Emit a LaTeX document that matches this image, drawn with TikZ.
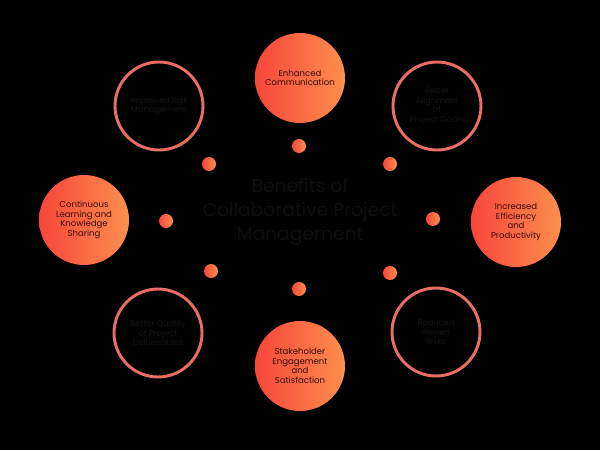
\documentclass[tikz,border=0pt]{standalone}
\usepackage{fontspec}
\setmainfont{Poppins}
\definecolor{cl}{HTML}{F7463A}
\definecolor{cr}{HTML}{FD8E4E}
\definecolor{ringc}{HTML}{EA6E64}
\definecolor{dtext}{HTML}{340C08}
\definecolor{ghost}{HTML}{0F0F0F}
\definecolor{ghostring}{HTML}{141414}
\tikzset{
  bigc/.style={circle, minimum size=67.5pt, inner sep=0pt, left color=cl, right color=cr,
    text=dtext, font=\fontsize{6.4}{7.3}\selectfont, align=center},
  ringn/.style={circle, minimum size=66pt, inner sep=0pt, draw=ringc, line width=2.2pt,
    text=ghostring, font=\fontsize{6.2}{7.2}\selectfont, align=center},
  dotn/.style={circle, minimum size=10.5pt, inner sep=0pt, left color=cl, right color=cr},
  titlen/.style={text=ghost, font=\fontsize{14}{18}\selectfont, align=center}
}
\begin{document}
\begin{tikzpicture}[x=0.75pt,y=-0.75pt]
\fill[black] (0,0) rectangle (600,450);
\useasboundingbox (0,0) rectangle (600,450);
% filled circles
\node[bigc] (top) at (300,78) {Enhanced\\Communication};
\node[bigc] (left) at (84,220) {Continuous\\Learning and\\Knowledge\\Sharing};
\node[bigc] (right) at (516,222) {Increased\\Efficiency\\and\\Productivity};
\node[bigc] (bottom) at (300,366) {Stakeholder\\Engagement\\and\\Satisfaction};
% rings
\node[ringn] (tl) at (159,106) {Improved Risk\\Management};
\node[ringn] (tr) at (437,106) {Better\\Alignment\\of\\Project Goals};
\node[ringn] (bl) at (158,333) {Better Quality\\of Project\\Deliverables};
\node[ringn] (br) at (436,332) {Reduced\\Project\\Risks};
% dots
\node[dotn] (dt) at (299,146) {};
\node[dotn] (db) at (299,289) {};
\node[dotn] (dl) at (166,221) {};
\node[dotn] (dr) at (433,219) {};
\node[dotn] (dtl) at (209,164) {};
\node[dotn] (dtr) at (390,164) {};
\node[dotn] (dbl) at (211,271) {};
\node[dotn] (dbr) at (390,273) {};
% title
\node[titlen] (title) at (300,212) {Benefits of\\Collaborative Project\\Management};
\end{tikzpicture}
\end{document}
